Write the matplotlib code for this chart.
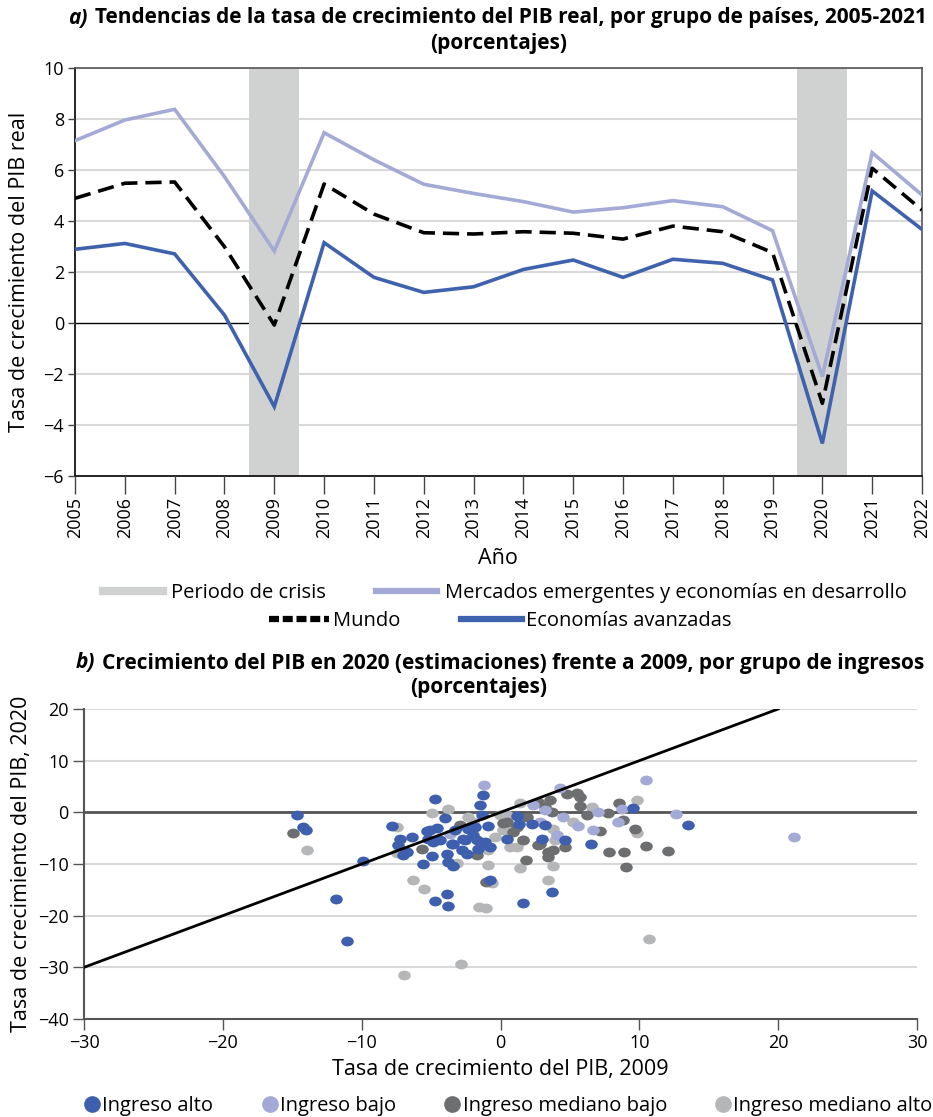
import matplotlib
matplotlib.use("Agg")
import matplotlib.pyplot as plt
from matplotlib.lines import Line2D
from matplotlib.offsetbox import TextArea, HPacker, AnchoredOffsetbox
from matplotlib.path import Path
from matplotlib.transforms import Affine2D

plt.rcParams['font.family'] = ['Open Sans', 'DejaVu Sans']

# ---------------- Data: panel a ----------------
years = list(range(2005, 2023))
emerging = [7.15, 7.96, 8.38, 5.74, 2.82, 7.46, 6.40, 5.44, 5.08, 4.76, 4.35, 4.52, 4.80, 4.56, 3.62, -2.10, 6.68, 5.02]
world = [4.89, 5.48, 5.53, 2.99, -0.08, 5.45, 4.27, 3.54, 3.49, 3.58, 3.52, 3.29, 3.80, 3.58, 2.76, -3.15, 6.07, 4.43]
advanced = [2.89, 3.12, 2.71, 0.31, -3.28, 3.15, 1.79, 1.20, 1.42, 2.10, 2.47, 1.79, 2.50, 2.34, 1.69, -4.72, 5.18, 3.67]
crisis_years = [2009, 2020]

# ---------------- Data: panel b ----------------
alto_x = [-14.63, -14.21, -14.01, -9.88, -11.87, -11.08, -7.78, -7.24, -7.36, -7.00, -6.76, -6.40,
          -5.61, -5.32, -5.20, -4.96, -4.72, -4.60, -4.36, -4.00, -3.88, -3.76, -3.40, -3.28, -3.40,
          -2.80, -2.56, -2.44, -2.20, -1.84, -1.71, -1.60, -1.48, -1.28, -1.35, -1.12, -0.88, -0.76,
          -0.76, 0.45, 1.17, 1.35, 2.25, 2.97, 3.21, 3.69, 4.65, 6.50, 9.52, 13.53, -4.72, -3.88,
          -3.76, 1.60, -4.84, -2.68, -1.96, -3.52, -5.08, -2.32]
alto_y = [-0.58, -2.80, -3.35, -9.42, -16.83, -24.89, -2.65, -5.22, -6.38, -8.32, -7.68, -4.74,
          -9.92, -3.62, -5.09, -8.51, 2.65, -2.96, -5.42, -1.16, -7.99, -9.61, -10.44, -3.48, -6.19,
          -7.35, -5.42, -7.99, -3.15, -2.84, -5.42, -7.02, 1.35, 3.29, -0.58, -5.74, -2.71, -6.71,
          -13.01, -5.09, -0.77, -2.19, -2.19, -5.09, -2.51, -15.42, -5.42, -6.05, 0.83, -2.38, -17.16,
          -15.86, -18.12, -17.47, -5.74, -5.09, -4.45, -6.19, -3.48, -3.29]

bajo_x = [-1.19, 4.32, 10.45, 2.36, 3.21, 4.52, 5.55, 6.69, 6.99, 8.73, 8.49, 12.64, 21.15, -3.64,
          2.85, 4.05]
bajo_y = [5.36, 4.64, 6.19, 1.35, 0.39, -0.91, -2.71, -3.48, 0.06, 0.72, -1.88, -0.39, -4.78, -4.12,
          -1.88, -4.45]

med_bajo_x = [-14.91, -5.68, -2.92, -1.71, -1.04, 0.45, 0.92, 1.89, 2.85, 3.44, 3.44, 3.80, 1.82,
              4.65, 2.72, 3.57, 4.77, 5.49, 5.76, 5.76, 6.21, 7.77, 8.54, 8.80, 7.17, 9.69, 10.45,
              7.84, 8.90, 9.02, 12.09, 3.21, 3.69, 0.20, 1.17, 1.64, 2.72]
med_bajo_y = [-3.93, -7.10, -2.51, -8.32, -13.54, -1.88, -3.81, -0.91, -6.05, -7.68, -8.65, -7.35,
              -9.15, -6.71, 1.99, 2.46, 3.62, 3.77, 2.96, 1.26, -0.58, -0.10, 1.80, -1.55, -3.58,
              -3.15, -6.54, -7.74, -7.74, -10.58, -7.49, 1.03, 0.06, -2.07, -2.84, -5.42, -6.38]

med_alto_x = [-13.92, -7.48, -4.96, -3.76, -3.16, -2.32, -1.96, -0.04, 0.45, 1.40, 0.20, -0.40, 0.68,
              1.17, 1.64, -0.88, 1.40, 3.76, 3.40, -6.33, -5.51, 9.81, 9.81, 6.57, 5.24, 3.80, 3.93,
              -0.63, -1.53, -1.04, 10.68, -2.87, -6.95, -7.48, 0.81, -0.88]
med_alto_y = [-7.21, -2.84, -0.14, 0.72, -9.81, -0.91, -1.88, -0.58, -0.58, 1.80, -3.48, -4.78, -6.71,
              -6.71, -5.42, -10.12, -10.73, -10.44, -13.02, -13.02, -14.76, 2.46, -4.00, 1.03, -1.88,
              -3.15, -5.42, -13.67, -18.32, -18.43, -24.43, -29.40, -31.53, -7.87, -3.48, -7.35]

ref_line = [-30, 20]

# ---------------- Style ----------------
C_CRISIS = '#d0d2d1'
C_EMERG = '#a4aad6'
C_ADV = '#3f62ae'
C_ALTO = '#3d5fad'
C_BAJO = '#a3aad6'
C_MBAJO = '#6d6e6f'
C_MALTO = '#b4b6b7'
GRID = '#d9d9d9'
FS = 13          # ticks
FL = 15.5        # axis labels
FLEG = 14.5      # legends
FT = 15          # titles

fig = plt.figure(figsize=(9.33, 11.17), dpi=100)

def title(fig, x, y, prefix, rest):
    box = HPacker(children=[
        TextArea(prefix, textprops=dict(style='italic', weight='bold', fontsize=FT)),
        TextArea(rest, textprops=dict(weight='bold', fontsize=FT))], sep=5, align='baseline')
    ab = AnchoredOffsetbox(loc='center', child=box, bbox_to_anchor=(x, y),
                           bbox_transform=fig.transFigure, frameon=False, pad=0, borderpad=0)
    fig.add_artist(ab)

# ================= Panel a =================
ax1 = fig.add_axes([75/933, 1-476/1117, (922-75)/933, (476-68)/1117])
ax1.set_xlim(2005, 2022)
ax1.set_ylim(-6, 10)
ax1.set_yticks(range(-6, 11, 2))
ax1.set_xticks(years)
ax1.set_xticklabels([str(y) for y in years], rotation=90, fontsize=FS)
ax1.tick_params(axis='y', labelsize=FS, length=5, width=1, color='#444444', pad=3)
ax1.tick_params(axis='x', length=13, width=1, color='#444444', pad=2)
for v in range(-4, 11, 2):
    if v != 0:
        ax1.axhline(v, color=GRID, lw=1.5, zorder=0)
ax1.axhline(0, color='black', lw=1, zorder=1)
for cy in crisis_years:
    ax1.axvspan(cy - 0.5, cy + 0.5, color=C_CRISIS, lw=0, zorder=2)
ax1.plot(years, emerging, color=C_EMERG, lw=2.6, zorder=3, solid_joinstyle='miter')
ax1.plot(years, advanced, color=C_ADV, lw=2.6, zorder=4, solid_joinstyle='miter')
ax1.plot(years, world, color='black', lw=2.6, dashes=(4.5, 2.2), zorder=5)
for s in ['left', 'bottom']:
    ax1.spines[s].set_color('black')
    ax1.spines[s].set_linewidth(1.2)
for s in ['top', 'right']:
    ax1.spines[s].set_color('#555555')
    ax1.spines[s].set_linewidth(1.2)
ax1.set_axisbelow(False)

title(fig, 0.533, 1-18/1117, 'a)', 'Tendencias de la tasa de crecimiento del PIB real, por grupo de países, 2005-2021')
fig.text(0.534, 1-44/1117, '(porcentajes)', ha='center', va='center', fontsize=FT, weight='bold')
fig.text(20/933, 1-272/1117, 'Tasa de crecimiento del PIB real', rotation=90, ha='center', va='center', fontsize=FL)
fig.text(0.534, 1-558/1117, 'Año', ha='center', va='center', fontsize=FL)

h_crisis = Line2D([], [], color=C_CRISIS, lw=6)
h_emerg = Line2D([], [], color=C_EMERG, lw=4.5)
h_world = Line2D([], [], color='black', lw=4.5, dashes=(1.6, 0.6))
h_adv = Line2D([], [], color=C_ADV, lw=4.5)
fig.legend([h_crisis, h_emerg], ['Periodo de crisis', 'Mercados emergentes y economías en desarrollo'],
           loc='center', bbox_to_anchor=(0.541, 1-593/1117), ncol=2, frameon=False, fontsize=FLEG,
           handlelength=3.0, handletextpad=0.4, columnspacing=2.5)
fig.legend([h_world, h_adv], ['Mundo', 'Economías avanzadas'],
           loc='center', bbox_to_anchor=(0.536, 1-621/1117), ncol=2, frameon=False, fontsize=FLEG,
           handlelength=3.0, handletextpad=0.2, columnspacing=3.0)

# ================= Panel b =================
ax2 = fig.add_axes([84/933, 1-1019/1117, (917-84)/933, (1019-709)/1117])
ax2.set_xlim(-30, 30)
ax2.set_ylim(-40, 20)
ax2.set_xticks(range(-30, 31, 10))
ax2.set_yticks(range(-40, 21, 10))
ax2.tick_params(labelsize=FS, length=8, width=1, color='#555555', pad=3)
for v in [20, 10, -10, -20, -30]:
    ax2.axhline(v, color=GRID, lw=1.5, zorder=0)
ax2.axhline(0, color='#555555', lw=2, zorder=1)
for s in ['top', 'right']:
    ax2.spines[s].set_visible(False)
for s in ['left', 'bottom']:
    ax2.spines[s].set_color('#555555')
    ax2.spines[s].set_linewidth(1.5)

ell = Path.unit_circle().transformed(Affine2D().scale(1.0, 0.78))
kw = dict(marker=ell, s=82, linewidths=0)
ax2.scatter(med_alto_x, med_alto_y, color=C_MALTO, zorder=3, **kw)
ax2.scatter(med_bajo_x, med_bajo_y, color=C_MBAJO, zorder=4, **kw)
ax2.scatter(bajo_x, bajo_y, color=C_BAJO, zorder=5, **kw)
ax2.scatter(alto_x, alto_y, color=C_ALTO, zorder=6, **kw)
ax2.plot(ref_line, ref_line, color='black', lw=2, zorder=7)

title(fig, 0.536, 1-663/1117, 'b)', 'Crecimiento del PIB en 2020 (estimaciones) frente a 2009, por grupo de ingresos')
fig.text(0.513, 1-688/1117, '(porcentajes)', ha='center', va='center', fontsize=FT, weight='bold')
fig.text(22/933, 1-864/1117, 'Tasa de crecimiento del PIB, 2020', rotation=90, ha='center', va='center', fontsize=FL)
fig.text(0.536, 1-1070/1117, 'Tasa de crecimiento del PIB, 2009', ha='center', va='center', fontsize=FL)

mk = lambda c: Line2D([], [], marker='o', color=c, lw=0, markersize=11)
fig.legend([mk(C_ALTO), mk(C_BAJO), mk(C_MBAJO), mk(C_MALTO)],
           ['Ingreso alto', 'Ingreso bajo', 'Ingreso mediano bajo', 'Ingreso mediano alto'],
           loc='center', bbox_to_anchor=(0.545, 1-1106/1117), ncol=4, frameon=False, fontsize=FLEG,
           handlelength=0.8, handletextpad=0.1, columnspacing=2.4)

fig.savefig('out.png', dpi=100)
